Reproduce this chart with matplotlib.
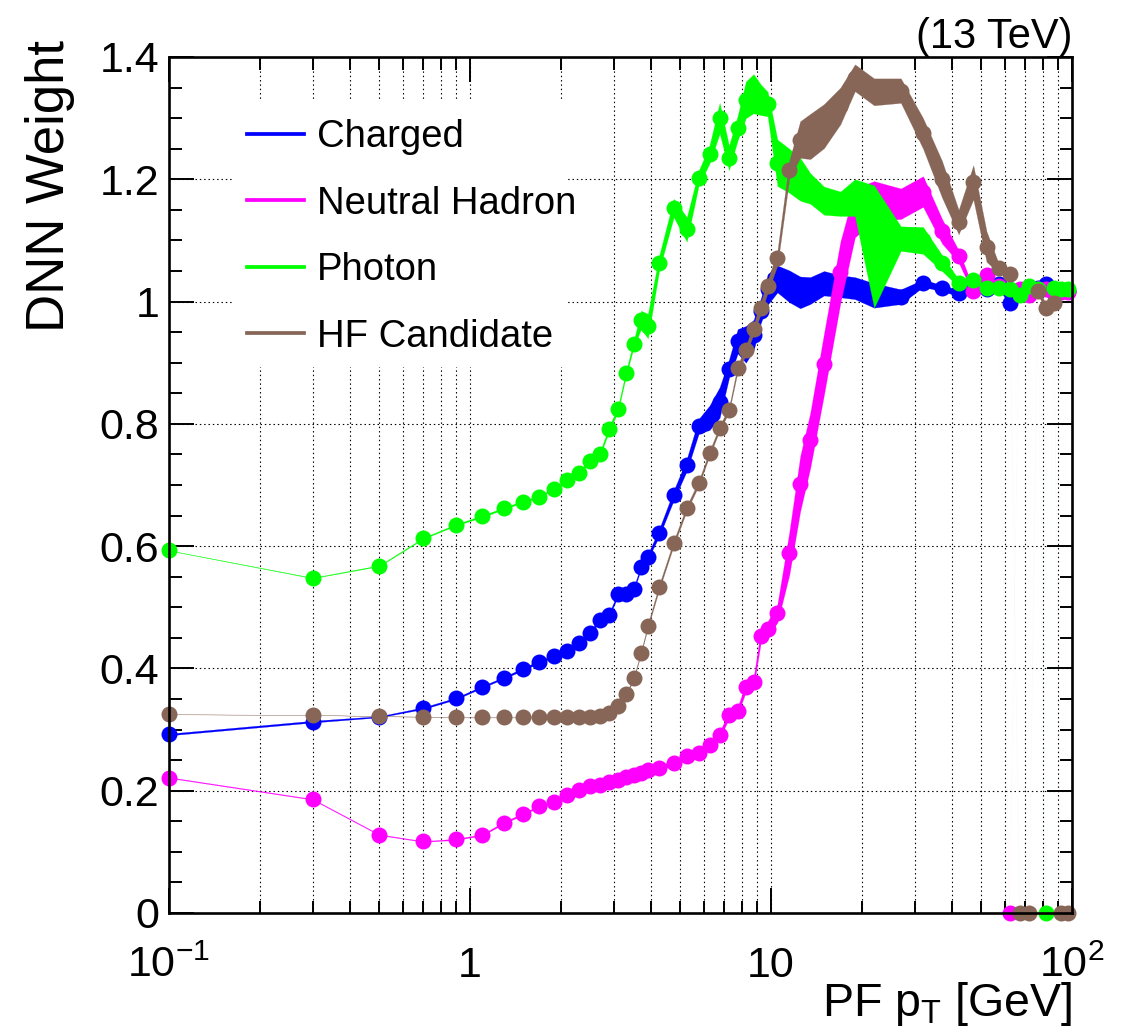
import numpy as np
import matplotlib
matplotlib.use("Agg")
import matplotlib.pyplot as plt
from matplotlib.ticker import (FixedLocator, FixedFormatter, LogLocator,
                               MultipleLocator, NullFormatter, FuncFormatter)
from matplotlib.patches import Rectangle
from matplotlib.lines import Line2D

plt.rcParams['font.family'] = ['Liberation Sans', 'DejaVu Sans']
plt.rcParams['mathtext.fontset'] = 'custom'
plt.rcParams['mathtext.rm'] = 'Liberation Sans'
plt.rcParams['mathtext.it'] = 'Liberation Sans:italic'
plt.rcParams['mathtext.bf'] = 'Liberation Sans:bold'

# PF candidate pT bins [GeV]
pt = [0.1, 0.3, 0.5, 0.7, 0.9, 1.1, 1.3, 1.5, 1.7, 1.9,
      2.1, 2.3, 2.5, 2.7, 2.9, 3.1, 3.3, 3.5, 3.7, 3.9,
      4.25, 4.75, 5.25, 5.75, 6.25, 6.75, 7.25, 7.75, 8.25, 8.75,
      9.25, 9.75, 10.5, 11.5, 12.5, 13.5, 15, 17, 19,
      22, 27, 32, 37, 42, 47, 52, 57, 62, 67, 72, 77, 82, 87, 92, 97]

# mean DNN weight and its uncertainty per particle type
charged = [0.292, 0.313, 0.321, 0.335, 0.351, 0.370, 0.385, 0.399, 0.411, 0.420,
           0.428, 0.441, 0.458, 0.480, 0.488, 0.521, 0.521, 0.530, 0.566, 0.583,
           0.622, 0.683, 0.733, 0.796, 0.810, 0.835, 0.890, 0.935, 0.930, 0.945,
           0.985, 1.020, 1.037, 1.025, 1.015, 1.018, 1.030, 1.025, 1.022,
           1.010, 1.008, 1.030, 1.022, 1.014, 1.020, 1.020, 1.028, 0.998, 1.017,
           1.020, 1.022, 1.028, 1.014, 1.017, 1.018]
charged_err = [0.0015, 0.0015, 0.001, 0.0015, 0.0015, 0.0015, 0.0015, 0.002, 0.002, 0.002,
               0.002, 0.002, 0.002, 0.003, 0.003, 0.003, 0.003, 0.003, 0.003, 0.004,
               0.006, 0.008, 0.010, 0.012, 0.020, 0.025, 0.015, 0.020, 0.030, 0.025,
               0.020, 0.025, 0.022, 0.026, 0.026, 0.022, 0.020, 0.018, 0.018,
               0.020, 0.012, 0.006, 0.005, 0.005, 0.005, 0.005, 0.005, 0.005, 0.005,
               0.005, 0.005, 0.005, 0.005, 0.005, 0.005]

neutral = [0.2215, 0.186, 0.128, 0.117, 0.1205, 0.128, 0.148, 0.162, 0.175, 0.182,
           0.193, 0.201, 0.207, 0.2095, 0.215, 0.218, 0.223, 0.226, 0.229, 0.234,
           0.237, 0.246, 0.257, 0.261, 0.275, 0.291, 0.324, 0.331, 0.369, 0.377,
           0.453, 0.465, 0.490, 0.588, 0.702, 0.773, 0.898, 1.048, 1.145,
           1.165, 1.160, 1.180, 1.115, 1.074, 1.017, 1.044, 1.025, 0.0, 1.020,
           1.011, 1.020, 1.020, 1.014, 1.015, 1.015]
neutral_err = [0.0007, 0.0007, 0.0007, 0.0007, 0.001, 0.0012, 0.0015, 0.0015, 0.0015, 0.0015,
               0.0015, 0.0015, 0.0015, 0.0015, 0.002, 0.002, 0.002, 0.002, 0.002, 0.003,
               0.004, 0.004, 0.004, 0.004, 0.005, 0.005, 0.006, 0.006, 0.007, 0.008,
               0.010, 0.012, 0.015, 0.035, 0.045, 0.045, 0.050, 0.050, 0.040,
               0.032, 0.025, 0.025, 0.020, 0.010, 0.005, 0.004, 0.004, 0.0, 0.004,
               0.004, 0.004, 0.004, 0.004, 0.004, 0.004]

photon = [0.593, 0.548, 0.568, 0.613, 0.635, 0.649, 0.662, 0.673, 0.681, 0.694,
          0.7075, 0.720, 0.740, 0.751, 0.792, 0.824, 0.883, 0.931, 0.970, 0.960,
          1.063, 1.153, 1.118, 1.202, 1.241, 1.300, 1.235, 1.284, 1.330, 1.340,
          1.330, 1.323, 1.227, 1.214, 1.200, 1.185, 1.165, 1.160, 1.170,
          1.090, 1.103, 1.100, 1.063, 1.030, 1.036, 1.022, 1.022, 1.020, 1.0115,
          1.025, 1.020, 0.0, 1.022, 1.020, 1.020]
photon_err = [0.0003, 0.0005, 0.0008, 0.001, 0.0012, 0.0015, 0.0015, 0.0015, 0.0015, 0.0015,
              0.0015, 0.002, 0.002, 0.003, 0.004, 0.004, 0.004, 0.005, 0.015, 0.020,
              0.012, 0.015, 0.020, 0.012, 0.015, 0.025, 0.020, 0.020, 0.030, 0.032,
              0.025, 0.020, 0.038, 0.036, 0.035, 0.025, 0.023, 0.020, 0.030,
              0.100, 0.020, 0.022, 0.013, 0.006, 0.004, 0.004, 0.004, 0.004, 0.004,
              0.004, 0.004, 0.0, 0.004, 0.004, 0.004]

hf = [0.325, 0.324, 0.322, 0.321, 0.320, 0.320, 0.320, 0.320, 0.320, 0.320,
      0.321, 0.321, 0.321, 0.322, 0.327, 0.339, 0.358, 0.384, 0.426, 0.470,
      0.533, 0.605, 0.662, 0.703, 0.752, 0.793, 0.823, 0.891, 0.920, 0.955,
      0.990, 1.025, 1.071, 1.216, 1.265, 1.270, 1.287, 1.320, 1.366,
      1.343, 1.345, 1.275, 1.200, 1.130, 1.195, 1.090, 1.055, 1.045, 0.0,
      0.0, 1.017, 0.990, 0.998, 0.0, 0.0]
hf_err = [0.0001, 0.0001, 0.0002, 0.0002, 0.0002, 0.0002, 0.0002, 0.0002, 0.0002, 0.0002,
          0.0002, 0.0002, 0.0003, 0.0005, 0.001, 0.0015, 0.002, 0.002, 0.002, 0.003,
          0.004, 0.004, 0.004, 0.004, 0.004, 0.004, 0.004, 0.005, 0.008, 0.008,
          0.010, 0.010, 0.012, 0.015, 0.030, 0.037, 0.036, 0.030, 0.022,
          0.022, 0.020, 0.025, 0.030, 0.020, 0.028, 0.025, 0.008, 0.006, 0.0,
          0.0, 0.005, 0.006, 0.004, 0.0, 0.0]

labels = ["Charged", "Neutral Hadron", "Photon", "HF Candidate"]
colors = ["#0000ff", "#ff00ff", "#00ff00", "#876657"]
values = [charged, neutral, photon, hf]
errors = [charged_err, neutral_err, photon_err, hf_err]

W, H = 1129, 1036
fig = plt.figure(figsize=(W / 100, H / 100), dpi=100)
ax = fig.add_axes([169 / W, (H - 913) / H, 903 / W, 856 / H])

x = np.asarray(pt, dtype=float)
for lab, w, e, col in zip(labels, values, errors, colors):
    w = np.asarray(w, dtype=float)
    e = np.asarray(e, dtype=float)
    filled = w > 0
    idx = np.flatnonzero(filled)
    runs = np.split(idx, np.flatnonzero(np.diff(idx) > 1) + 1)
    # uncertainty band over each run of populated bins
    for r in runs:
        ax.fill_between(x[r], w[r] - e[r], w[r] + e[r], facecolor=col,
                        edgecolor=col, linewidth=0.15, zorder=2)
    # faint links into empty bins
    for i in range(len(x) - 1):
        if filled[i] != filled[i + 1]:
            ax.plot(x[i:i + 2], w[i:i + 2], color=col, lw=0.4, alpha=0.04, zorder=2)
    ax.plot(x, w, 'o', ms=11.5, color=col, mew=0, clip_on=False, zorder=2)

ax.set_xscale('log')
ax.set_xlim(0.1, 100)
ax.set_ylim(0, 1.4)

ax.xaxis.set_major_locator(FixedLocator([0.1, 1, 10, 100]))
ax.xaxis.set_major_formatter(FixedFormatter([r'$10^{-1}$', '1', '10', r'$10^{2}$']))
ax.xaxis.set_minor_locator(LogLocator(base=10, subs=[2, 3, 4, 5, 6, 7, 8, 9]))
ax.xaxis.set_minor_formatter(NullFormatter())
ax.yaxis.set_major_locator(MultipleLocator(0.2))
ax.yaxis.set_minor_locator(MultipleLocator(0.05))
ax.yaxis.set_major_formatter(FuncFormatter(lambda v, p: f'{v:g}'))

ax.set_axisbelow(True)
grid_kw = dict(color='black', linestyle=(0, (1.3, 2.6)), linewidth=0.8)
ax.grid(True, which='major', axis='both', **grid_kw)
ax.grid(True, which='minor', axis='x', **grid_kw)

for s in ax.spines.values():
    s.set_linewidth(1.9)
ax.tick_params(which='both', direction='in', top=True, right=True, width=1.4)
ax.tick_params(which='major', length=18)
ax.tick_params(which='minor', length=9)
ax.tick_params(axis='y', labelsize=31, pad=7)
ax.tick_params(axis='x', labelsize=31, pad=46)

# white legend panel over the grid
ax.add_patch(Rectangle((0.0698, 0.638), 0.372, 0.312, transform=ax.transAxes,
                       facecolor='white', edgecolor='none', zorder=1))
handles = [Line2D([], [], color=c, lw=2.7) for c in colors]
ax.legend(handles, labels, loc='upper left', bbox_to_anchor=(247 / W, 1 - 119 / H),
          bbox_transform=fig.transFigure, frameon=False, fontsize=27.5,
          handlelength=1.5, handletextpad=0.32, labelspacing=0.80,
          borderpad=0, borderaxespad=0)

fig.text(50 / W, 1 - 40 / H, 'DNN Weight', rotation=90, ha='center', va='top',
         fontsize=38)
fig.text(1072 / W, 1 - 1016 / H, r'PF p$_{\mathrm{T}}$ [GeV]', ha='right',
         va='baseline', fontsize=33.5)
fig.text(1072 / W, 1 - 48 / H, '(13 TeV)', ha='right', va='baseline', fontsize=30)

fig.canvas.draw()
for t in ax.xaxis.get_major_ticks():
    t.label1.set_verticalalignment('baseline')

fig.savefig('out.png', dpi=100)
